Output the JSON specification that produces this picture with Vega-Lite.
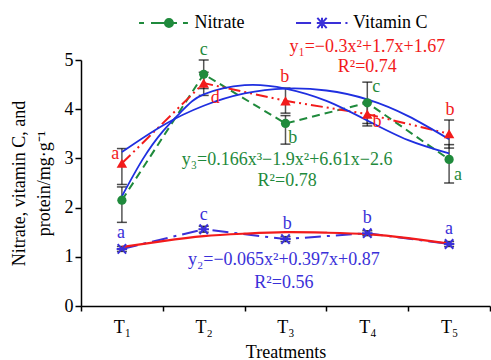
{
  "$schema": "https://vega.github.io/schema/vega-lite/v6.json",
  "width": 409,
  "height": 246,
  "autosize": "none",
  "padding": {"left": 81, "top": 60, "right": 1, "bottom": 54},
  "background": "white",
  "config": {
    "view": {"stroke": null},
    "font": "Liberation Serif",
    "axis": {
      "labelFont": "Liberation Serif", "titleFont": "Liberation Serif",
      "labelFontSize": 18, "titleFontSize": 18, "titleFontWeight": "normal",
      "labelColor": "black", "titleColor": "black",
      "domainColor": "black", "tickColor": "black",
      "domainWidth": 1.5, "tickWidth": 1.5, "grid": false
    }
  },
  "resolve": {"scale": {"shape": "independent"}, "legend": {"shape": "independent"}},
  "datasets": {
    "means": [
      {"series": "Nitrate", "t": 1, "v": 2.15, "lo": 1.7, "hi": 2.42},
      {"series": "Nitrate", "t": 2, "v": 4.71, "lo": 4.42, "hi": 5.0},
      {"series": "Nitrate", "t": 3, "v": 3.71, "lo": 3.29, "hi": 3.87},
      {"series": "Nitrate", "t": 4, "v": 4.13, "lo": 3.71, "hi": 4.55},
      {"series": "Nitrate", "t": 5, "v": 2.98, "lo": 2.5, "hi": 3.28},
      {"series": "Protein", "t": 1, "v": 2.9, "lo": 2.47, "hi": 3.2},
      {"series": "Protein", "t": 2, "v": 4.53, "lo": 4.28, "hi": 4.75},
      {"series": "Protein", "t": 3, "v": 4.17, "lo": 3.92, "hi": 4.43},
      {"series": "Protein", "t": 4, "v": 3.9, "lo": 3.66, "hi": 4.14},
      {"series": "Protein", "t": 5, "v": 3.5, "lo": 3.21, "hi": 3.78},
      {"series": "Vitamin C", "t": 1, "v": 1.16, "lo": 1.11, "hi": 1.21},
      {"series": "Vitamin C", "t": 2, "v": 1.56, "lo": 1.5, "hi": 1.62},
      {"series": "Vitamin C", "t": 3, "v": 1.36, "lo": 1.31, "hi": 1.41},
      {"series": "Vitamin C", "t": 4, "v": 1.48, "lo": 1.43, "hi": 1.53},
      {"series": "Vitamin C", "t": 5, "v": 1.26, "lo": 1.21, "hi": 1.31}
    ],
    "fits": [
      {"curve": "protein fit", "t": 1, "v": 3.13},
      {"curve": "protein fit", "t": 1.5, "v": 3.67},
      {"curve": "protein fit", "t": 2, "v": 4.07},
      {"curve": "protein fit", "t": 2.5, "v": 4.32},
      {"curve": "protein fit", "t": 3, "v": 4.42},
      {"curve": "protein fit", "t": 3.5, "v": 4.38},
      {"curve": "protein fit", "t": 4, "v": 4.2},
      {"curve": "protein fit", "t": 4.5, "v": 3.86},
      {"curve": "protein fit", "t": 5, "v": 3.39},
      {"curve": "nitrate fit", "t": 1, "v": 2.23},
      {"curve": "nitrate fit", "t": 1.25, "v": 2.97},
      {"curve": "nitrate fit", "t": 1.5, "v": 3.55},
      {"curve": "nitrate fit", "t": 1.75, "v": 3.99},
      {"curve": "nitrate fit", "t": 2, "v": 4.3},
      {"curve": "nitrate fit", "t": 2.5, "v": 4.49},
      {"curve": "nitrate fit", "t": 3, "v": 4.42},
      {"curve": "nitrate fit", "t": 3.5, "v": 4.17},
      {"curve": "nitrate fit", "t": 4, "v": 3.77},
      {"curve": "nitrate fit", "t": 4.5, "v": 3.37},
      {"curve": "nitrate fit", "t": 5, "v": 3.1},
      {"curve": "vitamin C fit", "t": 1, "v": 1.2},
      {"curve": "vitamin C fit", "t": 1.5, "v": 1.32},
      {"curve": "vitamin C fit", "t": 2, "v": 1.42},
      {"curve": "vitamin C fit", "t": 2.5, "v": 1.47},
      {"curve": "vitamin C fit", "t": 3, "v": 1.5},
      {"curve": "vitamin C fit", "t": 3.5, "v": 1.49},
      {"curve": "vitamin C fit", "t": 4, "v": 1.46},
      {"curve": "vitamin C fit", "t": 4.5, "v": 1.38},
      {"curve": "vitamin C fit", "t": 5, "v": 1.27}
    ],
    "letters": [
      {"series": "Nitrate", "t": 2.0, "v": 5.2, "letter": "c"},
      {"series": "Nitrate", "t": 3.09, "v": 3.41, "letter": "b"},
      {"series": "Nitrate", "t": 4.11, "v": 4.45, "letter": "c"},
      {"series": "Nitrate", "t": 5.11, "v": 2.66, "letter": "a"},
      {"series": "Protein", "t": 0.92, "v": 3.09, "letter": "a"},
      {"series": "Protein", "t": 2.14, "v": 4.23, "letter": "d"},
      {"series": "Protein", "t": 2.99, "v": 4.65, "letter": "b"},
      {"series": "Protein", "t": 4.12, "v": 3.74, "letter": "b"},
      {"series": "Protein", "t": 5.01, "v": 3.98, "letter": "b"},
      {"series": "Vitamin C", "t": 0.99, "v": 1.48, "letter": "a"},
      {"series": "Vitamin C", "t": 2.0, "v": 1.85, "letter": "c"},
      {"series": "Vitamin C", "t": 3.02, "v": 1.67, "letter": "b"},
      {"series": "Vitamin C", "t": 4.0, "v": 1.79, "letter": "b"},
      {"series": "Vitamin C", "t": 5.0, "v": 1.56, "letter": "a"}
    ],
    "equations": [
      {"series": "Protein", "t": 4.0, "v": 5.26, "text": "y₁=−0.3x²+1.7x+1.67"},
      {"series": "Protein", "t": 4.0, "v": 4.86, "text": "R²=0.74"},
      {"series": "Nitrate", "t": 3.02, "v": 2.97, "text": "y₃=0.166x³−1.9x²+6.61x−2.6"},
      {"series": "Nitrate", "t": 3.02, "v": 2.54, "text": "R²=0.78"},
      {"series": "Vitamin C", "t": 2.98, "v": 0.93, "text": "y₂=−0.065x²+0.397x+0.87"},
      {"series": "Vitamin C", "t": 2.98, "v": 0.47, "text": "R²=0.56"}
    ],
    "legendItems": [
      {"series": "Nitrate"},
      {"series": "Vitamin C"}
    ]
  },
  "encoding": {
    "x": {
      "field": "t", "type": "quantitative",
      "scale": {"domain": [0.5, 5.5], "nice": false, "zero": false},
      "axis": {
        "values": [0.5, 1, 1.5, 2, 2.5, 3, 3.5, 4, 4.5, 5, 5.5],
        "labelExpr": "datum.value % 1 === 0 ? 'T' + ['', '₁', '₂', '₃', '₄', '₅'][datum.value] : ''",
        "tickOpacity": {"condition": {"test": "datum.value % 1 === 0", "value": 0}, "value": 1},
        "tickSize": 5, "labelPadding": 7, "labelFlush": false, "labelOverlap": false,
        "title": "Treatments", "titlePadding": 7
      }
    }
  },
  "layer": [
    {
      "data": {"name": "means"},
      "mark": {"type": "rule", "color": "#555555", "strokeWidth": 1.5},
      "encoding": {
        "y": {
          "field": "lo", "type": "quantitative",
          "scale": {"domain": [0, 5], "nice": false, "zero": true},
          "axis": {
            "values": [0, 1, 2, 3, 4, 5], "tickSize": 6, "labelPadding": 2,
            "title": ["Nitrate, vitamin C, and", "protein/mg·g⁻¹"],
            "titlePadding": 11, "titleLineHeight": 25
          }
        },
        "y2": {"field": "hi"}
      }
    },
    {
      "data": {"name": "means"},
      "mark": {"type": "tick", "orient": "horizontal", "color": "black", "size": 10, "thickness": 1.5},
      "encoding": {"y": {"field": "lo", "type": "quantitative"}}
    },
    {
      "data": {"name": "means"},
      "mark": {"type": "tick", "orient": "horizontal", "color": "black", "size": 10, "thickness": 1.5},
      "encoding": {"y": {"field": "hi", "type": "quantitative"}}
    },
    {
      "data": {"name": "means"},
      "transform": [{"filter": "datum.series === 'Nitrate'"}],
      "mark": {"type": "line", "strokeWidth": 2, "color": "#1f8a3c", "strokeDash": [8, 5]},
      "encoding": {"y": {"field": "v", "type": "quantitative"}}
    },
    {
      "data": {"name": "means"},
      "transform": [{"filter": "datum.series === 'Protein'"}],
      "mark": {"type": "line", "strokeWidth": 2, "color": "#f21b1b", "strokeDash": [12, 4, 2, 4, 2, 4]},
      "encoding": {"y": {"field": "v", "type": "quantitative"}}
    },
    {
      "data": {"name": "means"},
      "transform": [{"filter": "datum.series === 'Vitamin C'"}],
      "mark": {"type": "line", "strokeWidth": 2, "color": "#3a30d8", "strokeDash": [16, 6, 3, 6]},
      "encoding": {"y": {"field": "v", "type": "quantitative"}}
    },
    {
      "data": {"name": "fits"},
      "transform": [{"filter": "datum.curve !== 'vitamin C fit'"}],
      "mark": {"type": "line", "color": "#1f2fe0", "strokeWidth": 1.8, "interpolate": "natural"},
      "encoding": {
        "y": {"field": "v", "type": "quantitative"},
        "detail": {"field": "curve", "type": "nominal"}
      }
    },
    {
      "data": {"name": "fits"},
      "transform": [{"filter": "datum.curve === 'vitamin C fit'"}],
      "mark": {"type": "line", "color": "#f21b1b", "strokeWidth": 2.2, "interpolate": "natural"},
      "encoding": {"y": {"field": "v", "type": "quantitative"}}
    },
    {
      "data": {"name": "means"},
      "transform": [{"filter": "datum.series === 'Nitrate'"}],
      "mark": {"type": "point", "shape": "circle", "filled": true, "opacity": 1, "color": "#1f8a3c", "size": 85},
      "encoding": {"y": {"field": "v", "type": "quantitative"}}
    },
    {
      "data": {"name": "means"},
      "transform": [{"filter": "datum.series === 'Protein'"}],
      "mark": {"type": "point", "shape": "triangle-up", "filled": true, "opacity": 1, "color": "#f21b1b", "size": 110},
      "encoding": {"y": {"field": "v", "type": "quantitative"}}
    },
    {
      "data": {"name": "means"},
      "transform": [{"filter": "datum.series === 'Vitamin C'"}],
      "mark": {"type": "point", "shape": "M-1,0H1M-0.8,-0.9L0.8,0.9M-0.8,0.9L0.8,-0.9", "filled": false, "opacity": 1, "color": "#3a30d8", "strokeWidth": 2, "size": 110},
      "encoding": {"y": {"field": "v", "type": "quantitative"}}
    },
    {
      "data": {"name": "letters"},
      "mark": {"type": "text", "font": "Liberation Serif", "fontSize": 18, "align": "center", "baseline": "middle"},
      "encoding": {
        "y": {"field": "v", "type": "quantitative"},
        "text": {"field": "letter"},
        "color": {
          "field": "series", "type": "nominal",
          "scale": {"domain": ["Nitrate", "Protein", "Vitamin C"], "range": ["#1f8a3c", "#f21b1b", "#3a30d8"]},
          "legend": null
        }
      }
    },
    {
      "data": {"name": "equations"},
      "mark": {"type": "text", "font": "Liberation Serif", "fontSize": 18, "align": "center", "baseline": "middle"},
      "encoding": {
        "y": {"field": "v", "type": "quantitative"},
        "text": {"field": "text"},
        "color": {"field": "series", "type": "nominal", "legend": null}
      }
    },
    {
      "data": {"name": "legendItems"},
      "transform": [{"filter": "datum.series === 'Nitrate'"}],
      "mark": {"type": "point", "filled": false, "opacity": 0, "color": "#1f8a3c", "stroke": "#1f8a3c", "strokeWidth": 2},
      "encoding": {
        "x": null,
        "shape": {
          "field": "series", "type": "nominal",
          "scale": {
            "domain": ["Nitrate"],
            "range": ["M-0.94,0H-0.75M-0.48,0H0.02M0.37,0H0.52M0.75,0H0.94M0.25,0A0.04,0.04 0 1,1 0.17,0A0.04,0.04 0 1,1 0.25,0ZM0.31,0A0.1,0.1 0 1,1 0.11,0A0.1,0.1 0 1,1 0.31,0ZM0.365,0A0.155,0.155 0 1,1 0.055,0A0.155,0.155 0 1,1 0.365,0Z"]
          },
          "legend": {
            "title": null, "orient": "none", "legendX": 55.5, "legendY": -64,
            "direction": "horizontal", "symbolSize": 2704, "symbolStrokeWidth": 2,
            "symbolOpacity": 1, "symbolStrokeColor": "#1f8a3c",
            "labelFont": "Liberation Serif", "labelFontSize": 18, "labelColor": "black",
            "labelOffset": 4, "padding": 0
          }
        }
      }
    },
    {
      "data": {"name": "legendItems"},
      "transform": [{"filter": "datum.series === 'Vitamin C'"}],
      "mark": {"type": "point", "filled": false, "opacity": 0, "color": "#3a30d8", "stroke": "#3a30d8", "strokeWidth": 2},
      "encoding": {
        "x": null,
        "shape": {
          "field": "series", "type": "nominal",
          "scale": {
            "domain": ["Vitamin C"],
            "range": ["M-1,0H-0.42M0,0H0.73M0.9,0H0.98M-0.2,0H0.2M0,-0.2V0.2M-0.18,-0.2L0.18,0.2M-0.18,0.2L0.18,-0.2"]
          },
          "legend": {
            "title": null, "orient": "none", "legendX": 214, "legendY": -64,
            "direction": "horizontal", "symbolSize": 2704, "symbolStrokeWidth": 2,
            "symbolOpacity": 1, "symbolStrokeColor": "#3a30d8",
            "labelFont": "Liberation Serif", "labelFontSize": 18, "labelColor": "black",
            "labelOffset": 4, "padding": 0
          }
        }
      }
    }
  ]
}
